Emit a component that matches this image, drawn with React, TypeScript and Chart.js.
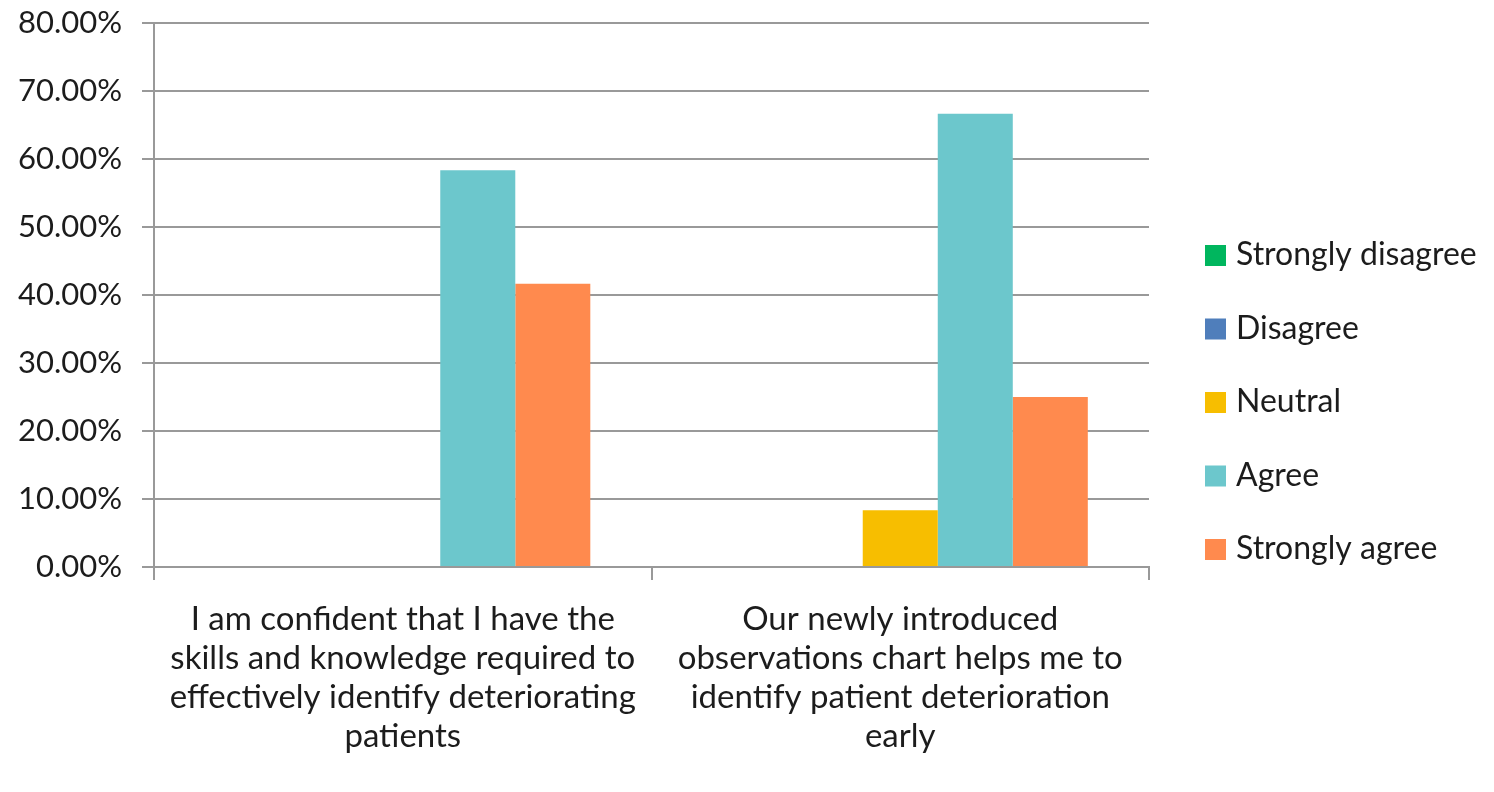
import React, { useEffect, useRef } from "react";
import { Chart, registerables } from "chart.js";

Chart.register(...registerables);

const categories: string[][] = [
  ["I am confident that I have the", "skills and knowledge required to", "effectively identify deteriorating", "patients"],
  ["Our newly introduced", "observations chart helps me to", "identify patient deterioration", "early"],
];
const seriesNames = ["Strongly disagree", "Disagree", "Neutral", "Agree", "Strongly agree"];
const seriesColors = ["#00B65E", "#4F7EBB", "#F7BE00", "#6CC7CC", "#FF8A4E"];
const stronglyDisagree = [0, 0];
const disagree = [0, 0];
const neutral = [0, 8.33];
const agree = [58.33, 66.67];
const stronglyAgree = [41.67, 25];
const yTicks = [0, 10, 20, 30, 40, 50, 60, 70, 80];

const FONT = "Lato";
const TEXT = "#1c1c1c";
const GRID = "#999999";

const legendPlugin = {
  id: "sideLegend",
  afterDraw(chart: any) {
    const ctx = chart.ctx;
    const area = chart.chartArea;
    const x0 = area.right + 56;
    const yStart = 255;
    const step = 73.5;
    ctx.save();
    ctx.font = `32px ${FONT}`;
    ctx.textBaseline = "middle";
    ctx.textAlign = "left";
    chart.data.datasets.forEach((ds: any, i: number) => {
      const y = yStart + i * step;
      ctx.fillStyle = ds.backgroundColor;
      ctx.fillRect(x0, y - 10, 21, 21);
      ctx.fillStyle = TEXT;
      ctx.fillText(ds.label, x0 + 31, y);
    });
    ctx.restore();
  },
};

export default function App() {
  const ref = useRef<HTMLCanvasElement | null>(null);
  useEffect(() => {
    document.body.style.margin = "0";
    const values = [stronglyDisagree, disagree, neutral, agree, stronglyAgree];
    const chart = new Chart(ref.current!, {
      type: "bar",
      data: {
        labels: categories,
        datasets: seriesNames.map((name, i) => ({
          label: name,
          data: values[i],
          backgroundColor: seriesColors[i],
          borderWidth: 0,
          categoryPercentage: 0.754,
          barPercentage: 1,
        })),
      },
      options: {
        animation: false,
        responsive: false,
        layout: { padding: { top: 23, right: 345, left: 0, bottom: 0 } },
        plugins: { legend: { display: false }, tooltip: { enabled: false } },
        scales: {
          x: {
            offset: true,
            grid: {
              offset: true,
              drawOnChartArea: false,
              drawTicks: true,
              tickLength: 13,
              color: GRID,
              lineWidth: 2,
            },
            border: { display: true, color: GRID, width: 2 },
            ticks: {
              color: TEXT,
              font: { family: FONT, size: 33, lineHeight: 1.18 },
              padding: 20,
              maxRotation: 0,
              autoSkip: false,
            },
            afterFit(scale: any) {
              scale.height = 225;
            },
          },
          y: {
            min: 0,
            max: 80,
            afterBuildTicks(scale: any) {
              scale.ticks = yTicks.map((v) => ({ value: v }));
            },
            grid: { color: GRID, lineWidth: 2, tickLength: 12, drawTicks: true },
            border: { display: true, color: GRID, width: 2 },
            ticks: {
              color: TEXT,
              font: { family: FONT, size: 31 },
              padding: 20,
              callback: (v: any) => Number(v).toFixed(2) + "%",
            },
            afterFit(scale: any) {
              scale.width = 154;
              scale.paddingTop = 0;
              scale.paddingBottom = 0;
            },
          },
        },
      },
      plugins: [legendPlugin],
    });
    return () => chart.destroy();
  }, []);
  return <canvas ref={ref} width={1494} height={792} style={{ display: "block" }} />;
}
